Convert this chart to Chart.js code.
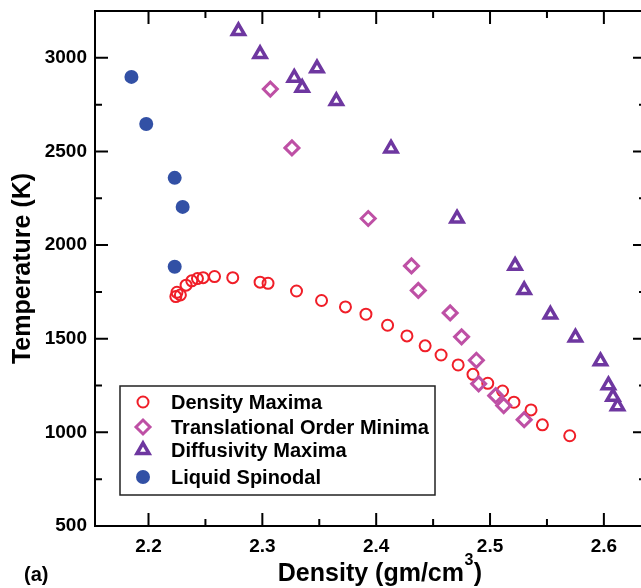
<!DOCTYPE html>
<html>
<head>
<meta charset="utf-8">
<script src="https://cdn.jsdelivr.net/npm/chart.js@4/dist/chart.umd.min.js"></script>
<style>
  html, body { margin: 0; padding: 0; background: #fff; overflow: hidden; }
  #wrap { width: 641px; height: 588px; overflow: hidden; }
  #phase-chart { display: block; }
</style>
</head>
<body>
<div id="wrap"><canvas id="phase-chart" width="660" height="588"></canvas></div>
<script>
// Density maxima (open red circles) --- (*1)
const densityMaxRho = [2.224, 2.225, 2.228, 2.233, 2.238, 2.243, 2.248, 2.258, 2.274, 2.298, 2.305, 2.330, 2.352, 2.373, 2.391, 2.410, 2.427, 2.443, 2.457, 2.472, 2.485, 2.498, 2.511, 2.521, 2.536, 2.546, 2.570];
const densityMaxT = [1725, 1748, 1734, 1786, 1809, 1821, 1826, 1832, 1826, 1802, 1796, 1755, 1704, 1670, 1631, 1572, 1515, 1462, 1413, 1360, 1310, 1262, 1221, 1161, 1120, 1040, 982];
// Translational order minima (open diamonds)
const orderMinRho = [2.307, 2.326, 2.393, 2.431, 2.437, 2.465, 2.475, 2.488, 2.490, 2.505, 2.512, 2.530];
const orderMinT = [2833, 2519, 2142, 1889, 1758, 1638, 1510, 1385, 1259, 1196, 1143, 1068];
// Diffusivity maxima (open triangles)
const diffMaxRho = [2.279, 2.298, 2.328, 2.335, 2.348, 2.365, 2.413, 2.471, 2.522, 2.530, 2.553, 2.575, 2.597, 2.604, 2.608, 2.612];
const diffMaxT = [3143, 3020, 2894, 2840, 2944, 2769, 2516, 2142, 1890, 1760, 1629, 1507, 1380, 1252, 1190, 1140];
// Liquid spinodal (filled blue circles)
const spinodalRho = [2.185, 2.198, 2.223, 2.230, 2.223];
const spinodalT = [2898, 2647, 2359, 2204, 1884];

const seriesLabels = ["Density Maxima", "Translational Order Minima", "Diffusivity Maxima", "Liquid Spinodal"];
const xRange = [2.153, 2.637];
const yRange = [500, 3250];
const xMajor = 0.1;
const yMajor = 500;

const FONT = "'Liberation Sans', Arial, Helvetica, sans-serif";
// right edge of the plot box; it falls just outside the visible window
const PLOT_RIGHT = 646;
const START_PAD_RIGHT = 14;

// turn two arrays into {x, y} points
function toPoints(xs, ys) {
  return xs.map((x, i) => ({ x, y: ys[i] }));
}

function isMultiple(v, step) {
  const q = v / step;
  return Math.abs(q - Math.round(q)) < 1e-6;
}

// keep the plot box where the reference has it
function noPad(scale) {
  scale.paddingTop = 0;
  scale.paddingBottom = 0;
  scale.paddingLeft = 0;
  scale.paddingRight = 0;
}

// frame and inward ticks --- (*2)
const frameTicks = {
  id: "frameTicks",
  afterDraw(chart) {
    const { ctx, chartArea: a, scales } = chart;
    ctx.save();
    ctx.strokeStyle = "#000";
    ctx.lineWidth = 2;
    ctx.strokeRect(a.left, a.top, a.right - a.left, a.bottom - a.top);

    scales.x.ticks.forEach((t) => {
      const v = t.value;
      if (!isMultiple(v, xMajor / 2) || v <= xRange[0] || v >= xRange[1]) return;
      const len = isMultiple(v, xMajor) ? 13 : 7;
      const px = scales.x.getPixelForValue(v);
      ctx.beginPath();
      ctx.moveTo(px, a.bottom);
      ctx.lineTo(px, a.bottom - len);
      ctx.moveTo(px, a.top);
      ctx.lineTo(px, a.top + len);
      ctx.stroke();
    });
    scales.y.ticks.forEach((t) => {
      const v = t.value;
      if (!isMultiple(v, yMajor / 2) || v <= yRange[0] || v >= yRange[1]) return;
      const len = isMultiple(v, yMajor) ? 13 : 7;
      const py = scales.y.getPixelForValue(v);
      ctx.beginPath();
      ctx.moveTo(a.left, py);
      ctx.lineTo(a.left + len, py);
      ctx.moveTo(a.right, py);
      ctx.lineTo(a.right - len, py);
      ctx.stroke();
    });
    ctx.restore();
  },
};

// boxed legend, x title with superscript, panel tag --- (*3)
const boxLegend = {
  id: "boxLegend",
  afterDraw(chart) {
    const { ctx } = chart;
    ctx.save();
    ctx.strokeStyle = "#222";
    ctx.lineWidth = 1.5;
    ctx.strokeRect(120, 386, 315, 109);
    const rows = [402, 427, 450, 477];
    chart.data.datasets.forEach((ds, i) => {
      ctx.strokeStyle = ds.borderColor;
      ctx.fillStyle = ds.backgroundColor;
      ctx.lineWidth = ds.borderWidth;
      Chart.helpers.drawPoint(ctx, {
        pointStyle: ds.pointStyle,
        radius: ds.pointRadius,
        borderWidth: ds.borderWidth,
        rotation: 0,
      }, 143, rows[i]);
      ctx.fillStyle = "#000";
      ctx.font = `bold 20px ${FONT}`;
      ctx.textBaseline = "middle";
      ctx.textAlign = "left";
      ctx.fillText(ds.label, 171, rows[i] + 1);
    });

    ctx.fillStyle = "#000";
    ctx.textBaseline = "alphabetic";
    ctx.font = `bold 20px ${FONT}`;
    ctx.fillText("(a)", 24, 581);

    // "Density (gm/cm3)" centred under the axis, 3 raised
    const main = "Density (gm/cm";
    ctx.font = `bold 25px ${FONT}`;
    const wMain = ctx.measureText(main).width;
    const wClose = ctx.measureText(")").width;
    ctx.font = `bold 16px ${FONT}`;
    const wSup = ctx.measureText("3").width + 1;
    let x = 380 - (wMain + wSup + wClose) / 2;
    ctx.font = `bold 25px ${FONT}`;
    ctx.fillText(main, x, 581);
    x += wMain;
    ctx.font = `bold 16px ${FONT}`;
    ctx.fillText("3", x + 0.5, 565);
    x += wSup;
    ctx.font = `bold 25px ${FONT}`;
    ctx.fillText(")", x, 581);
    ctx.restore();
  },
};

window.addEventListener("DOMContentLoaded", () => {
  const canvas = document.querySelector("#phase-chart");
  const chart = new Chart(canvas, {
    type: "scatter",
    data: {
      datasets: [
        {
          label: seriesLabels[0],
          data: toPoints(densityMaxRho, densityMaxT),
          pointStyle: "circle",
          pointRadius: 5.5,
          borderWidth: 2,
          borderColor: "rgb(240, 30, 40)",
          backgroundColor: "rgba(255, 255, 255, 0)",
          order: 2,
        },
        {
          label: seriesLabels[1],
          data: toPoints(orderMinRho, orderMinT),
          pointStyle: "rectRot",
          pointRadius: 7,
          borderWidth: 3,
          borderColor: "rgb(190, 80, 165)",
          backgroundColor: "rgba(255, 255, 255, 0)",
          order: 1,
        },
        {
          label: seriesLabels[2],
          data: toPoints(diffMaxRho, diffMaxT),
          pointStyle: "triangle",
          pointRadius: 7,
          borderWidth: 3.5,
          borderColor: "rgb(110, 55, 160)",
          backgroundColor: "rgba(255, 255, 255, 0)",
          order: 3,
        },
        {
          label: seriesLabels[3],
          data: toPoints(spinodalRho, spinodalT),
          pointStyle: "circle",
          pointRadius: 7,
          borderWidth: 0,
          borderColor: "rgb(50, 80, 165)",
          backgroundColor: "rgb(50, 80, 165)",
          order: 4,
        },
      ],
    },
    options: {
      responsive: false,
      animation: false,
      layout: { padding: { top: 11, right: START_PAD_RIGHT, left: 0, bottom: 0 } },
      plugins: {
        legend: { display: false },
        tooltip: { enabled: false },
      },
      elements: { point: { hoverRadius: 7 } },
      scales: {
        x: {
          type: "linear",
          min: xRange[0],
          max: xRange[1],
          afterFit: (scale) => { scale.height = 62; noPad(scale); },
          grid: { display: false, drawTicks: false },
          border: { display: false },
          ticks: {
            stepSize: xMajor / 2,
            includeBounds: false,
            autoSkip: false,
            maxRotation: 0,
            padding: 9,
            color: "#000",
            font: { family: FONT, size: 19, weight: "bold" },
            callback: (v) => (isMultiple(v, xMajor) ? v.toFixed(1) : ""),
          },
          title: { display: false },
        },
        y: {
          type: "linear",
          min: yRange[0],
          max: yRange[1],
          afterFit: (scale) => { scale.width = 95; noPad(scale); },
          grid: { display: false, drawTicks: false },
          border: { display: false },
          ticks: {
            stepSize: yMajor / 2,
            includeBounds: false,
            autoSkip: false,
            padding: 8,
            color: "#000",
            font: { family: FONT, size: 19, weight: "bold" },
            callback: (v) => (isMultiple(v, yMajor) ? String(v) : ""),
          },
          title: {
            display: true,
            text: "Temperature (K)",
            color: "#000",
            padding: { top: 8, bottom: 0 },
            font: { family: FONT, size: 25, weight: "bold" },
          },
        },
      },
    },
    plugins: [frameTicks, boxLegend],
  });

  // nudge the right padding so the plot box ends at PLOT_RIGHT --- (*4)
  const diff = chart.chartArea.right - PLOT_RIGHT;
  if (Math.abs(diff) > 0.5) {
    chart.options.layout.padding.right = Math.max(0, START_PAD_RIGHT + diff);
    chart.update();
  }
});
</script>
</body>
</html>
